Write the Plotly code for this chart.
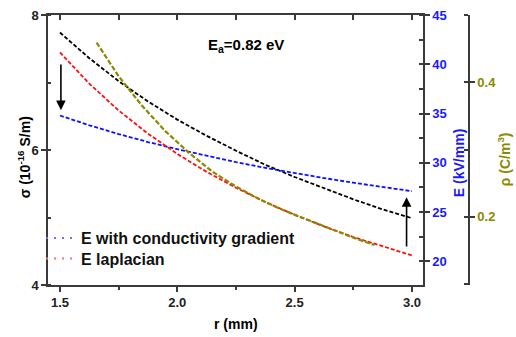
import plotly.graph_objects as go

# ---- data ----
r_vals = [1.5, 1.625, 1.75, 1.875, 2.0, 2.125, 2.25, 2.375, 2.5, 2.625, 2.75, 2.875, 3.0]
sigma_vals = [7.74, 7.36, 7.02, 6.72, 6.45, 6.21, 5.99, 5.78, 5.60, 5.43, 5.27, 5.12, 4.99]
e_grad_vals = [34.8, 33.81, 32.92, 32.11, 31.38, 30.70, 30.07, 29.49, 28.95, 28.45, 27.98, 27.53, 27.12]
e_lap_vals = [41.2, 38.03, 35.31, 32.96, 30.9, 29.08, 27.47, 26.02, 24.72, 23.54, 22.47, 21.50, 20.6]

r_rho = [1.656, 1.75, 1.85, 1.95, 2.05, 2.15, 2.25, 2.35, 2.45, 2.55, 2.65, 2.75, 2.84]
rho_vals = [0.459, 0.409, 0.365, 0.327, 0.295, 0.267, 0.245, 0.226, 0.210, 0.196, 0.182, 0.169, 0.158]

legend_names = ["E with conductivity gradient", "E laplacian"]

# arrows (r, sigma tail, sigma head)
arrow_down = (1.504, 7.29, 6.59)
arrow_up = (2.977, 4.55, 5.30)

# ---- layout geometry ----
W, H = 516, 337
ML, MR, MT, MB = 48, 10, 8, 52
PW, PH = W - ML - MR, H - MT - MB
PLOT_RIGHT = 423
RHO_X = 469

def px(x):
    return (x - ML) / PW

def py(y):
    return (H - MB - y) / PH

FONT = "Arial, Liberation Sans, sans-serif"
AXC = "#3a3a3a"
BLUE = "#1a1aff"
OLIVE = "#8a8a00"

fig = go.Figure()
fig.add_trace(go.Scatter(x=r_vals, y=sigma_vals, mode="lines", showlegend=False,
                         line=dict(color="black", width=1.8, dash="4px,2px"), yaxis="y"))
fig.add_trace(go.Scatter(x=r_vals, y=e_grad_vals, mode="lines", showlegend=False,
                         line=dict(color="#1010ff", width=1.8, dash="4px,2px"), yaxis="y2"))
fig.add_trace(go.Scatter(x=r_vals, y=e_lap_vals, mode="lines", showlegend=False,
                         line=dict(color="#ff1010", width=1.8, dash="4px,2px"), yaxis="y2"))
fig.add_trace(go.Scatter(x=r_rho, y=rho_vals, mode="lines", showlegend=False,
                         line=dict(color=OLIVE, width=2.2, dash="5px,2px"), yaxis="y3"))
# legend entries
fig.add_trace(go.Scatter(x=[None], y=[None], mode="lines", name=legend_names[0], legend="legend",
                         line=dict(color="#7070ff", width=2, dash="2px,6px"), yaxis="y2"))
fig.add_trace(go.Scatter(x=[None], y=[None], mode="lines", name=legend_names[1], legend="legend2",
                         line=dict(color="#ff7070", width=2, dash="2px,6px"), yaxis="y2"))
# helper trace for top tick axis
fig.add_trace(go.Scatter(x=[2.0], y=[6.0], mode="markers", marker=dict(opacity=0),
                         showlegend=False, hoverinfo="skip", xaxis="x2", yaxis="y"))

xr = [1.449, 3.047]
dom = [0, (PLOT_RIGHT - ML) / PW]
TICKF = 13

def legend_box(y):
    return dict(x=px(41), y=py(y), xanchor="left", yanchor="middle",
                bgcolor="rgba(0,0,0,0)", font=dict(family=FONT, size=16, weight="bold", color="#111"),
                tracegroupgap=0, itemwidth=30)

fig.update_layout(
    width=W, height=H,
    margin=dict(l=ML, r=MR, t=MT, b=MB),
    plot_bgcolor="white", paper_bgcolor="white",
    font=dict(family=FONT, size=13, color="black"),
    showlegend=True,
    legend=legend_box(237),
    legend2=legend_box(258),
    xaxis=dict(domain=dom, range=xr, tick0=1.5, dtick=0.5, tickformat=".1f",
               ticks="outside", ticklen=5, tickwidth=1.5, tickcolor=AXC,
               minor=dict(dtick=0.25, tick0=1.5, ticks="outside", ticklen=3, tickwidth=1.5, tickcolor=AXC),
               showline=True, linecolor=AXC, linewidth=1.5, mirror=True,
               showgrid=False, zeroline=False,
               tickfont=dict(family=FONT, size=TICKF, weight="bold", color="#222")),
    xaxis2=dict(domain=dom, range=xr, overlaying="x", side="top", anchor="y",
                tick0=1.5, dtick=0.25, ticks="inside", ticklen=5, tickwidth=1.5, tickcolor=AXC,
                showticklabels=False, showline=False, showgrid=False, zeroline=False),
    yaxis=dict(range=[4, 8], tick0=4, dtick=2,
               ticks="outside", ticklen=5, tickwidth=1.5, tickcolor=AXC,
               minor=dict(dtick=1, ticks="inside", ticklen=3, tickwidth=1.5, tickcolor=AXC),
               showline=True, linecolor=AXC, linewidth=1.5,
               showgrid=False, zeroline=False,
               tickfont=dict(family=FONT, size=TICKF, weight="bold", color="#222")),
    yaxis2=dict(range=[17.6, 45], overlaying="y", side="right", anchor="x",
                tick0=20, dtick=5,
                ticks="outside", ticklen=5, tickwidth=1.5, tickcolor=AXC,
                minor=dict(dtick=2.5, tick0=20, ticks="inside", ticklen=4, tickwidth=1.5, tickcolor=AXC),
                showline=True, linecolor=AXC, linewidth=1.5,
                showgrid=False, zeroline=False,
                tickfont=dict(family=FONT, size=TICKF, weight="bold", color=BLUE)),
    yaxis3=dict(range=[0.0986, 0.5], overlaying="y", side="right", anchor="free",
                position=px(RHO_X), tick0=0.2, dtick=0.2, tickformat=".1f",
                ticks="outside", ticklen=5, tickwidth=1.5, tickcolor=AXC,
                minor=dict(dtick=0.1, tick0=0.1, ticks="inside", ticklen=4, tickwidth=1.5, tickcolor=AXC),
                showline=True, linecolor=AXC, linewidth=1.5,
                showgrid=False, zeroline=False,
                tickfont=dict(family=FONT, size=TICKF, weight="bold", color=OLIVE)),
)

def label(x, y, text, size, color, angle=0):
    return dict(x=px(x), y=py(y), xref="paper", yref="paper", showarrow=False,
                xanchor="center", yanchor="middle", text=text, textangle=angle,
                font=dict(family=FONT, size=size, weight="bold", color=color))

ann = [
    label(24, 154, "σ (10<sup>-16</sup> S/m)", 14, "black", -90),
    label(459, 160, "E (kV/mm)", 14, BLUE, -90),
    label(504, 156, "ρ (C/m<sup>3</sup>)", 14, OLIVE, -90),
    label(236, 325, "r (mm)", 14, "black"),
    label(246, 39, "E<sub>a</sub>=0.82 eV", 15, "black"),
]
# arrows
for (xa, y_tail, y_head) in (arrow_down, arrow_up):
    ann.append(dict(x=xa, y=y_head, ax=xa, ay=y_tail, xref="x", yref="y", axref="x", ayref="y",
                    showarrow=True, arrowhead=2, arrowsize=1.2, arrowwidth=1.6, arrowcolor="black",
                    text=""))
fig.update_layout(annotations=ann)

fig.write_html("out.html")
